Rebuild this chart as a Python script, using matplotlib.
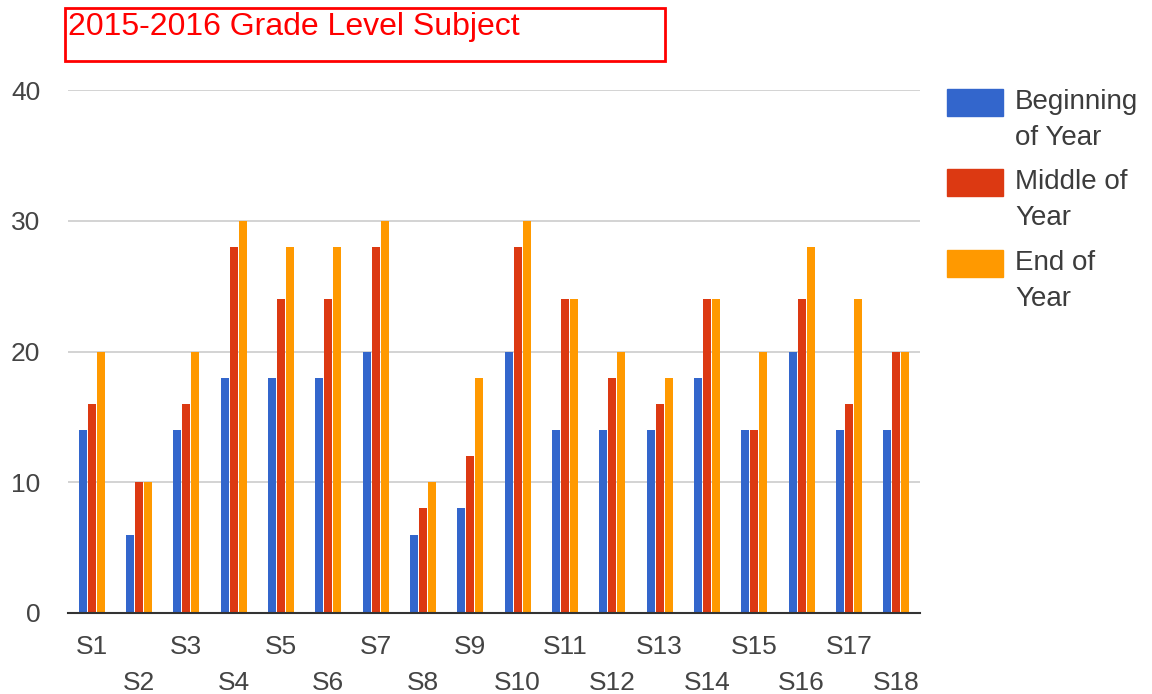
import matplotlib
matplotlib.use("Agg")
import matplotlib.pyplot as plt
import numpy as np
from matplotlib.patches import Rectangle

plt.rcParams['font.family'] = ['Liberation Sans', 'DejaVu Sans']

subjects = ["S%d" % i for i in range(1, 19)]
beginning = [14, 6, 14, 18, 18, 18, 20, 6, 8, 20, 14, 14, 14, 18, 14, 20, 14, 14]
middle = [16, 10, 16, 28, 24, 24, 28, 8, 12, 28, 24, 18, 16, 24, 14, 24, 16, 20]
end = [20, 10, 20, 30, 28, 28, 30, 10, 18, 30, 24, 20, 18, 24, 20, 28, 24, 20]

series = [("Beginning\nof Year", beginning, "#3366cc"),
          ("Middle of\nYear", middle, "#dc3912"),
          ("End of\nYear", end, "#ff9900")]

fig = plt.figure(figsize=(11.52, 6.94), dpi=100)
ax = fig.add_axes([68 / 1152, 81 / 694, 852 / 1152, 523 / 694])

x = np.arange(len(subjects))
step = 0.19
width = 0.17
for i, (name, vals, col) in enumerate(series):
    ax.bar(x + (i - 1) * step, vals, width=width, color=col, zorder=3)

ax.set_xlim(-0.5, len(subjects) - 0.5)
ax.set_ylim(0, 40)
ax.set_yticks([0, 10, 20, 30, 40])
ax.grid(axis='y', color='#cccccc', linewidth=1.2, zorder=0)
for s in ['top', 'right', 'left']:
    ax.spines[s].set_visible(False)
ax.spines['bottom'].set_color('#333333')
ax.spines['bottom'].set_linewidth(1.5)
ax.spines['bottom'].set_zorder(4)
ax.tick_params(axis='y', length=0, pad=20, labelsize=19, labelcolor='#444444')

# alternate x labels on two rows
ax.set_xticks(x[::2])
ax.set_xticklabels(subjects[::2])
ax.set_xticks(x[1::2], minor=True)
ax.set_xticklabels(subjects[1::2], minor=True)
ax.tick_params(axis='x', which='major', length=0, pad=16, labelsize=19, labelcolor='#444444')
ax.tick_params(axis='x', which='minor', length=0, pad=42, labelsize=19, labelcolor='#444444')

# legend drawn by hand
patch_y = [89, 169, 250]
for (name, vals, col), py in zip(series, patch_y):
    fig.patches.append(Rectangle((947 / 1152, 1 - (py + 27) / 694), 56 / 1152, 27 / 694,
                                 transform=fig.transFigure, color=col))
    lines = name.split("\n")
    for j, ln in enumerate(lines):
        fig.text(1015 / 1152, 1 - (py + 13 + 36 * j) / 694, ln, fontsize=20,
                 color='#3c3c3c', va='center', ha='left')

# title box
fig.patches.append(Rectangle((65 / 1152, 1 - 61 / 694), 600 / 1152, 53 / 694,
                             transform=fig.transFigure, fill=False,
                             edgecolor='#ff0000', linewidth=2))
fig.text(68 / 1152, 1 - 27 / 694, "2015-2016 Grade Level Subject", fontsize=23,
         color='#ff0000', va='center', ha='left')

fig.savefig("out.png", dpi=100)
